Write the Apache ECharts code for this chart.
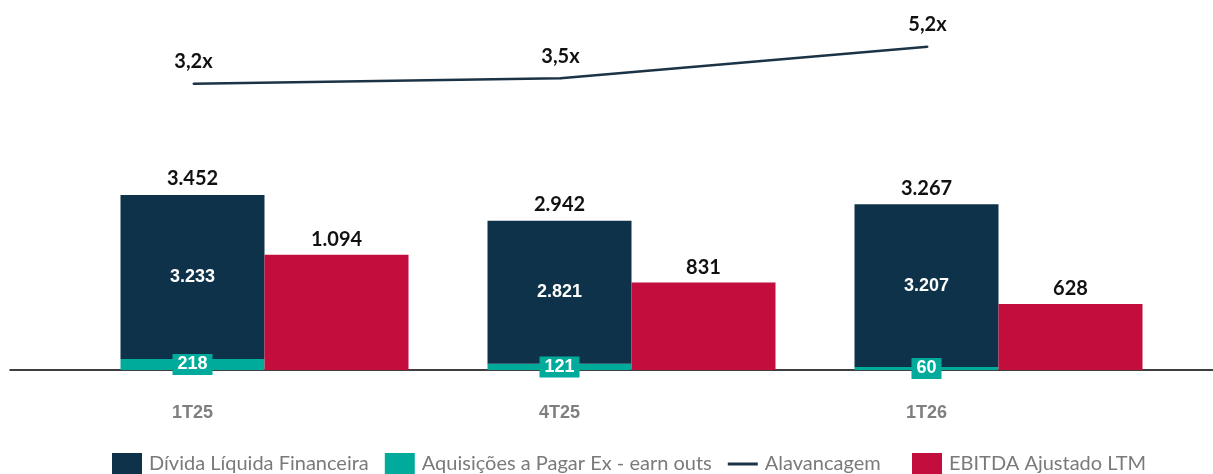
<!DOCTYPE html>
<html>
<head>
<meta charset="utf-8">
<script src="https://cdn.jsdelivr.net/npm/echarts@6/dist/echarts.min.js"></script>
<style>
  html, body { margin: 0; padding: 0; background: #fff; }
  #chart { width: 1213px; height: 474px; }
</style>
</head>
<body>
<div id="chart"></div>
<script>
// dados do gráfico
const categories = ['1T25', '4T25', '1T26']
const aquisicoes = [218, 121, 60]
const dividaLiquida = [3233, 2821, 3207]
const dividaTotal = [3452, 2942, 3267]
const ebitda = [1094, 831, 628]
const alavancagem = [3.2, 3.5, 5.2]

const NAVY = '#0e3249'
const TEAL = '#00ab9b'
const RED = '#c20d3d'
const LINE = '#1c3345'

function fmt(v) {
  return String(v).replace(/\B(?=(\d{3})+(?!\d))/g, '.')
}

const chart = echarts.init(document.getElementById('chart'))

chart.setOption({
  animation: false,
  legend: {
    data: [
      'Dívida Líquida Financeira',
      'Aquisições a Pagar Ex - earn outs',
      {name: 'Alavancagem', icon: 'path://M0,0 L30,0 L30,3 L0,3 Z', itemStyle: {color: LINE}},
      'EBITDA Ajustado LTM'
    ],
    icon: 'rect',
    top: 453,
    left: 112,
    padding: 0,
    itemWidth: 30,
    itemHeight: 22,
    itemGap: 16,
    formatter: name => name === 'Alavancagem' ? name + '   ' : name,
    textStyle: {fontFamily: 'Lato', fontSize: 20, color: '#7a7a7a', padding: [0, 0, 0, 2]}
  },
  grid: [
    {left: 81, right: 31, top: 140, bottom: 104},   // barras
    {left: 10, right: 102, top: 20, height: 123},   // alavancagem
    {left: 10, right: 0, top: 300, bottom: 104}     // linha do eixo
  ],
  xAxis: [
    {
      gridIndex: 0,
      type: 'category',
      data: categories,
      axisLine: {show: false},
      axisTick: {show: false},
      axisLabel: {
        margin: 34,
        padding: [0, 144, 0, 0],
        fontFamily: 'Liberation Sans',
        fontWeight: 'bold',
        fontSize: 18,
        color: '#7f7f7f'
      }
    },
    {
      gridIndex: 1,
      type: 'category',
      data: categories,
      show: false
    },
    {
      gridIndex: 2,
      type: 'category',
      data: categories,
      axisLine: {show: true, lineStyle: {color: '#000', width: 1.5}},
      axisTick: {show: false},
      axisLabel: {show: false}
    }
  ],
  yAxis: [
    {gridIndex: 0, type: 'value', min: 0, max: 4536, show: false},
    {gridIndex: 0, type: 'value', min: 0, max: 2185, show: false},
    {gridIndex: 1, type: 'value', min: 0, max: 6.65, show: false},
    {gridIndex: 2, type: 'value', min: 0, max: 1, show: false}
  ],
  series: [
    {
      name: 'Aquisições a Pagar Ex - earn outs',
      type: 'bar',
      stack: 'divida',
      xAxisIndex: 0,
      yAxisIndex: 0,
      barWidth: 144,
      barGap: '0%',
      itemStyle: {color: TEAL},
      data: aquisicoes,
      label: {
        show: true,
        position: 'inside',
        formatter: p => fmt(p.value),
        backgroundColor: TEAL,
        padding: [2, 5, 1, 5],
        color: '#fff',
        fontFamily: 'Liberation Sans',
        fontWeight: 'bold',
        fontSize: 18
      }
    },
    {
      name: 'Dívida Líquida Financeira',
      type: 'bar',
      stack: 'divida',
      xAxisIndex: 0,
      yAxisIndex: 0,
      barWidth: 144,
      barGap: '0%',
      itemStyle: {color: NAVY},
      data: dividaLiquida,
      label: {
        show: true,
        position: 'inside',
        formatter: p => fmt(p.value),
        color: '#fff',
        fontFamily: 'Liberation Sans',
        fontWeight: 'bold',
        fontSize: 18
      }
    },
    {
      name: 'Total',
      type: 'bar',
      stack: 'divida',
      xAxisIndex: 0,
      yAxisIndex: 0,
      barWidth: 144,
      barGap: '0%',
      itemStyle: {color: 'transparent'},
      data: dividaTotal.map(() => 0),
      label: {
        show: true,
        position: 'top',
        distance: 6,
        formatter: p => fmt(dividaTotal[p.dataIndex]),
        color: '#111',
        fontFamily: 'Lato',
        fontWeight: 'bold',
        fontSize: 20
      }
    },
    {
      name: 'EBITDA Ajustado LTM',
      type: 'bar',
      xAxisIndex: 0,
      yAxisIndex: 1,
      barWidth: 144,
      barGap: '0%',
      itemStyle: {color: RED},
      data: ebitda,
      label: {
        show: true,
        position: 'top',
        distance: 5,
        formatter: p => fmt(p.value),
        color: '#111',
        fontFamily: 'Lato',
        fontWeight: 'bold',
        fontSize: 20
      }
    },
    {
      name: 'Alavancagem',
      type: 'line',
      xAxisIndex: 1,
      yAxisIndex: 2,
      symbol: 'circle',
      symbolSize: 2,
      lineStyle: {color: LINE, width: 2.5},
      itemStyle: {color: LINE},
      data: alavancagem,
      label: {
        show: true,
        position: 'top',
        distance: 11,
        formatter: p => p.value.toFixed(1).replace('.', ',') + 'x',
        color: '#111',
        fontFamily: 'Lato',
        fontWeight: 'bold',
        fontSize: 20
      }
    }
  ]
})
</script>
</body>
</html>
